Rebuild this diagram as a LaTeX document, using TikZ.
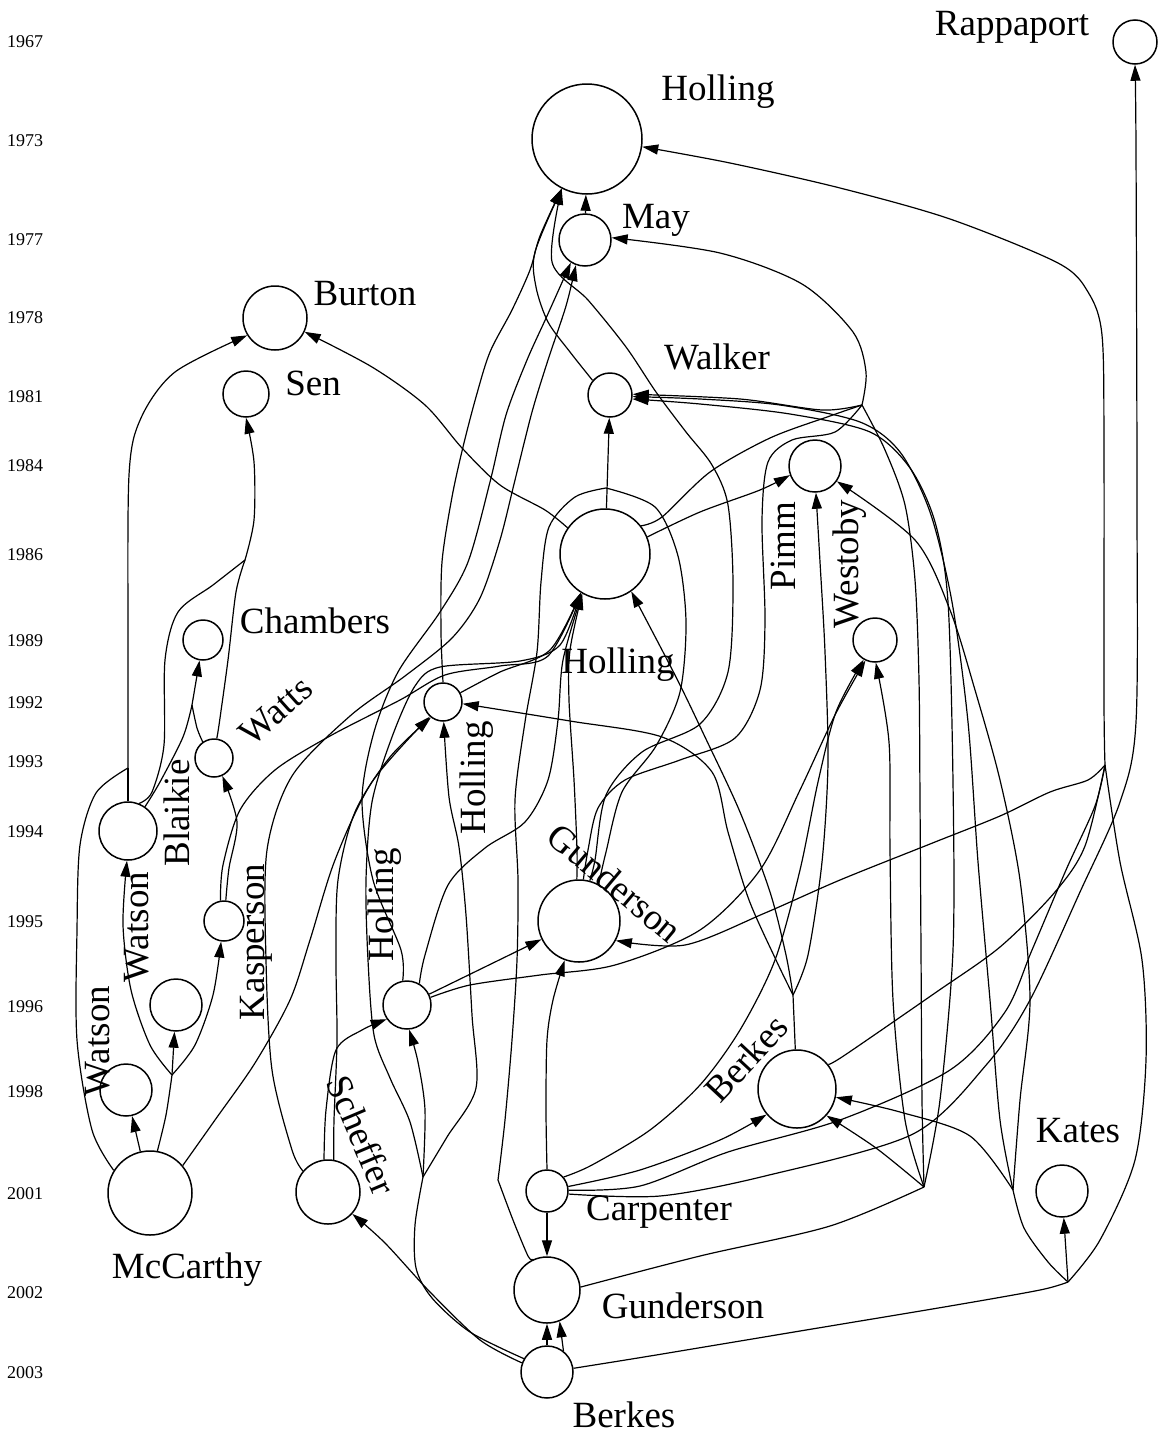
\documentclass[tikz,border=0pt]{standalone}
\usepackage{fontspec}
\setmainfont{Liberation Serif}
\usetikzlibrary{arrows.meta}
\begin{document}
\begin{tikzpicture}[x=1pt,y=-1pt,
  pub/.style={circle, draw, line width=1.5pt, inner sep=0pt, minimum size=#1pt},
  cite/.style={line width=1.2pt, -{Triangle[length=16pt,width=10pt]}},
  tie/.style={line width=1.2pt},
  lbl/.style={font=\fontsize{37}{40}\selectfont, inner sep=0pt},
  yr/.style={font=\fontsize{18}{20}\selectfont, inner sep=0pt}]
\fill[white] (0,0) rectangle (1159,1435);
\useasboundingbox (0,0) rectangle (1159,1435);

% year axis
\foreach \yy/\yv in {1967/42,1973/141,1977/240,1978/318,1981/397,1984/466,1986/555,
  1989/641,1992/703,1993/762,1994/832,1995/922,1996/1007,1998/1092,2001/1194,2002/1293,2003/1373}
  \node[yr] (y\yy) at (25,\yv) {\yy};

% publications
\node[pub=44] (rap) at (1135,42) {};
\node[pub=110] (h73) at (587,139) {};
\node[pub=52] (may) at (585,240) {};
\node[pub=64] (bur) at (275,318) {};
\node[pub=46] (sen) at (246,394) {};
\node[pub=44] (wal) at (610,395) {};
\node[pub=52] (pim) at (815,466) {};
\node[pub=90] (h86) at (605,554) {};
\node[pub=44] (wes) at (875,640) {};
\node[pub=40] (cha) at (203,640) {};
\node[pub=38] (h92) at (443,702) {};
\node[pub=38] (wat) at (214,758) {};
\node[pub=58] (bla) at (128,831) {};
\node[pub=40] (kas) at (224,921) {};
\node[pub=82] (g95) at (579,921) {};
\node[pub=52] (wso96) at (176,1005) {};
\node[pub=48] (h96) at (407,1005) {};
\node[pub=52] (wso98) at (126,1090) {};
\node[pub=78] (b98) at (797,1089) {};
\node[pub=84] (mcc) at (150,1193) {};
\node[pub=64] (sch) at (328,1192) {};
\node[pub=42] (car) at (547,1191) {};
\node[pub=52] (kat) at (1062,1191) {};
\node[pub=66] (g02) at (547,1290) {};
\node[pub=52] (b03) at (547,1372) {};

% author names
\node[lbl, anchor=base] (trap) at (1012,35) {Rappaport};
\node[lbl, anchor=base] (th73) at (718,100) {Holling};
\node[lbl, anchor=base] (tmay) at (656,228) {May};
\node[lbl, anchor=base] (tbur) at (365,305) {Burton};
\node[lbl, anchor=base] (tsen) at (313,395) {Sen};
\node[lbl, anchor=base] (twal) at (717,369) {Walker};
\node[lbl, anchor=base] (tcha) at (315,633) {Chambers};
\node[lbl, anchor=base] (th86) at (618,673) {Holling};
\node[lbl, anchor=base] (tmcc) at (187,1278) {McCarthy};
\node[lbl, anchor=base] (tcar) at (659,1220) {Carpenter};
\node[lbl, anchor=base] (tkat) at (1078,1142) {Kates};
\node[lbl, anchor=base] (tg02) at (683,1318) {Gunderson};
\node[lbl, anchor=base] (tb03) at (624,1427) {Berkes};
\node[lbl, rotate=90] (tpim) at (783,546) {Pimm};
\node[lbl, rotate=90] (twes) at (850,564) {Westoby};
\node[lbl, rotate=42] (twat) at (276,711) {Watts};
\node[lbl, rotate=90] (th92) at (477,778) {Holling};
\node[lbl, rotate=90] (tbla) at (177,813) {Blaikie};
\node[lbl, rotate=90] (tkas) at (256,942) {Kasperson};
\node[lbl, rotate=90] (twso96) at (137,927) {Watson};
\node[lbl, rotate=90] (twso98) at (98,1041) {Watson};
\node[lbl, rotate=90] (th96) at (385,905) {Holling};
\node[lbl, rotate=-40] (tg95) at (615,883) {Gunderson};
\node[lbl, rotate=-67] (tsch) at (362,1135) {Scheffer};
\node[lbl, rotate=47] (tb98) at (746,1058) {Berkes};

% junctions where citation lines merge
\coordinate (jm) at (172,1075);
\coordinate (jb) at (128,768);
\coordinate (jc) at (192,705);
\coordinate (js) at (245,560);
\coordinate (jw) at (862,405);
\coordinate (jt) at (606,488);
\coordinate (jf) at (924,1187);
\coordinate (jk) at (1068,1282);
\coordinate (jk2) at (1013,1190);
\coordinate (jr) at (1105,765);
\coordinate (jb98) at (793,995);
\coordinate (jl1) at (423,1177);
\coordinate (jl2) at (498,1180);

% McCarthy
\draw[cite] (mcc) -- (wso98);
\draw[tie] plot[smooth] coordinates {(mcc.80) (166,1115) (jm)};
\draw[cite] (jm) -- (wso96);
\draw[cite] plot[smooth] coordinates {(jm) (195,1045) (213,995) (kas.262)};
\draw[cite] plot[smooth] coordinates {(jm) (150,1045) (131,990) (123,925) (bla.268)};
\draw[tie] plot[smooth] coordinates {(mcc.148) (92,1130) (77,1040) (77,930) (80,845) (96,793) (jb)};
\draw[tie] (bla) -- (jb);
\draw[cite] plot[smooth] coordinates {(jb) (128,650) (129,475) (141,418) (175,372) (bur.212)};
\draw[cite] plot[smooth] coordinates {(mcc.40) (215,1120) (255,1063) (290,1000) (310,940) (335,860) (372,782) (h92.228)};

% Blaikie, Watts, Kasperson
\draw[tie] plot[smooth] coordinates {(bla.55) (160,782) (183,737) (jc)};
\draw[tie] plot[smooth] coordinates {(wat.125) (197,728) (jc)};
\draw[cite] (jc) -- (cha);
\draw[tie] plot[smooth] coordinates {(bla.68) (152,792) (164,745) (165,660) (178,612) (213,585) (js)};
\draw[tie] plot[smooth] coordinates {(wat.82) (219,725) (228,660) (236,592) (js)};
\draw[cite] plot[smooth] coordinates {(js) (254,520) (254,462) (sen.270)};
\draw[cite] plot[smooth] coordinates {(kas.85) (229,868) (237,822) (wat.295)};
\draw[cite] plot[smooth] coordinates {(kas.100) (223,865) (240,810) (275,770) (330,736) (400,700) (445,675) (500,666) (548,656) (h86.238)};

% Scheffer
\draw[cite] plot[smooth] coordinates {(sch.97) (326,1110) (336,1050) (362,1030) (h96.215)};
\draw[cite] plot[smooth] coordinates {(sch.140) (292,1150) (272,1070) (266,960) (267,850) (292,776) (350,716) (405,676) (452,638) (480,598) (500,540) (515,480) (532,412) (548,360) (566,306) (may.250)};
\draw[cite] plot[smooth] coordinates {(sch.80) (334,1120) (337,1040) (336,960) (338,880) (355,812) (390,757) (h92.232)};

% Holling 1996
\draw[cite] plot[smooth] coordinates {(h96.100) (401,950) (373,880) (362,800) (374,732) (398,672) (440,612) (468,562) (490,482) (506,415) (527,360) (547,316) (may.238)};
\draw[cite] (h96) -- (g95);
\draw[cite] plot[smooth] coordinates {(h96.60) (425,955) (448,885) (485,848) (525,822) (548,780) (558,720) (563,660) (h86.240)};
\draw[cite] plot[smooth] coordinates {(h96.18) (470,985) (540,975) (615,965) (700,930) (760,870) (800,790) (835,715) (wes.245)};

% Holling 1992, Walker, May
\draw[cite] plot[smooth] coordinates {(h92.90) (441,632) (442,562) (452,497) (463,447) (476,397) (490,352) (512,310) (530,270) (540,236) (h73.243)};
\draw[cite] plot[smooth] coordinates {(h92.28) (500,672) (550,650) (h86.238)};
\draw[cite] plot[smooth] coordinates {(wal.140) (570,352) (548,322) (536,287) (535,252) (h73.243)};
\draw[cite] (h86) -- (wal);
\draw[cite] (may) -- (h73);

% Gunderson 1995
\draw[cite] plot[smooth] coordinates {(g95.75) (595,860) (606,795) (642,752) (700,724) (728,672) (733,585) (728,505) (712,465) (686,432) (656,392) (626,347) (588,300) (552,262) (h73.243)};
\draw[tie] plot[smooth] coordinates {(g95.62) (606,852) (622,792) (656,746) (680,692) (686,622) (678,556) (655,507) (jt)};
\draw[cite] plot[smooth] coordinates {(g95.93) (577,850) (574,780) (569,700) (570,650) (h86.240)};
\draw[tie] plot[smooth] coordinates {(g95.84) (588,850) (598,808) (625,780) (680,760) (735,738) (760,690) (765,620) (762,520) (768,462) (792,440) (835,432) (jw)};

% Holling 1986 and the bundle right of Pimm
\draw[cite] plot[smooth] coordinates {(h86.145) (545,510) (500,485) (462,448) (425,405) (372,367) (bur.335)};
\draw[cite] plot[smooth] coordinates {(h86.22) (700,512) (760,490) (pim.200)};
\draw[tie] plot[smooth] coordinates {(h86.38) (662,517) (710,472) (770,438) (830,416) (jw)};
\draw[cite] plot[smooth] coordinates {(jw) (866,372) (853,332) (802,284) (720,253) (may.5)};
\draw[cite] plot[smooth] coordinates {(jw) (822,410) (740,399) (wal.2)};
\draw[tie] plot[smooth] coordinates {(jf) (922,1100) (921,950) (920,800) (919,680) (915,580) (905,505) (885,450) (jw)};
\draw[cite] plot[smooth] coordinates {(jk2) (1000,1120) (990,1000) (978,862) (968,722) (952,602) (930,512) (900,452) (860,422) (780,405) (700,399) (wal.356)};
\draw[cite] plot[smooth] coordinates {(jf) (940,1100) (953,950) (953,782) (948,602) (935,522) (910,468) (870,432) (790,414) (700,404) (wal.350)};

% Berkes 1998
\draw[tie] (b98) -- (jb98);
\draw[cite] plot[smooth] coordinates {(jb98) (808,955) (822,862) (828,762) (825,652) (820,562) (pim.272)};
\draw[cite] plot[smooth] coordinates {(jb98) (786,955) (770,892) (740,812) (705,737) (676,677) (h86.305)};
\draw[cite] plot[smooth] coordinates {(jb98) (776,960) (749,900) (728,832) (712,772) (662,737) (570,721) (h92.355)};
\draw[tie] plot[smooth] coordinates {(b98.38) (845,1055) (935,993) (1000,947) (1055,892) (1085,846) (jr)};

% Carpenter
\draw[cite] (car) -- (g02);
\draw[cite] plot[smooth] coordinates {(car.90) (546,1110) (547,1040) (553,1000) (g95.250)};
\draw[cite] plot[smooth] coordinates {(car.40) (592,1165) (650,1130) (700,1085) (740,1030) (775,960) (800,870) (818,782) (836,712) (wes.240)};
\draw[cite] plot[smooth] coordinates {(car.12) (640,1170) (720,1140) (b98.220)};
\draw[tie] plot[smooth] coordinates {(car.2) (640,1186) (728,1152) (840,1120) (950,1070) (1005,1012) (1032,950) (1066,870) (1095,806) (jr)};
\draw[cite] plot[smooth] coordinates {(car.352) (660,1196) (765,1176) (913,1134) (987,1064) (1030,1000) (1080,892) (1120,802) (1136,722) (1137,500) (1136,150) (rap.270)};

% right-hand bundle
\draw[cite] plot[smooth] coordinates {(jr) (1104,700) (1104,450) (1102,335) (1088,292) (1058,263) (950,219) (840,188) (730,163) (h73.352)};
\draw[cite] plot[smooth] coordinates {(jr) (1088,780) (1050,792) (1000,816) (930,844) (840,880) (765,913) (685,945) (g95.332)};
\draw[tie] plot[smooth] coordinates {(jk) (1100,1240) (1135,1160) (1146,1060) (1142,960) (1120,862) (jr)};

% Berkes 2003
\draw[tie] plot[smooth] coordinates {(b03.8) (650,1356) (800,1331) (950,1306) (1040,1290) (jk)};
\draw[cite] (jk) -- (kat);
\draw[tie] plot[smooth] coordinates {(jk) (1048,1262) (1024,1228) (jk2)};
\draw[cite] plot[smooth] coordinates {(jk2) (970,1136) (900,1112) (b98.348)};
\draw[cite] plot[smooth] coordinates {(jk2) (1020,1100) (1030,1000) (1020,880) (1000,780) (975,690) (950,610) (915,540) (pim.325)};
\draw[cite] (b03) -- (g02);
\draw[cite] (b03.52) -- (g02.292);
\draw[cite] plot[smooth] coordinates {(b03.160) (480,1340) (430,1292) (385,1243) (sch.318)};
\draw[tie] plot[smooth] coordinates {(b03.150) (470,1332) (432,1298) (416,1268) (415,1225) (jl1)};
\draw[cite] plot[smooth] coordinates {(jl1) (425,1110) (418,1062) (h96.275)};
\draw[cite] plot[smooth] coordinates {(jl1) (410,1122) (390,1078) (374,1035) (368,960) (366,880) (372,802) (392,737) (415,686) (440,667) (520,661) (560,645) (h86.238)};
\draw[cite] plot[smooth] coordinates {(jl1) (447,1137) (476,1088) (472,1015) (466,915) (459,847) (449,797) (h92.272)};

% Gunderson 2002
\draw[tie] plot[smooth] coordinates {(g02.5) (700,1256) (830,1226) (jf)};
\draw[cite] plot[smooth] coordinates {(jf) (876,1148) (b98.318)};
\draw[cite] plot[smooth] coordinates {(jf) (905,1120) (893,1000) (890,850) (889,742) (wes.272)};
\draw[tie] plot[smooth] coordinates {(g02.115) (528,1256) (513,1220) (jl2)};
\draw[tie] plot[smooth] coordinates {(jl2) (505,1120) (512,1040) (517,960) (518,880) (515,800) (525,722) (537,652) (541,582) (549,527) (575,497) (jt)};
\end{tikzpicture}
\end{document}
